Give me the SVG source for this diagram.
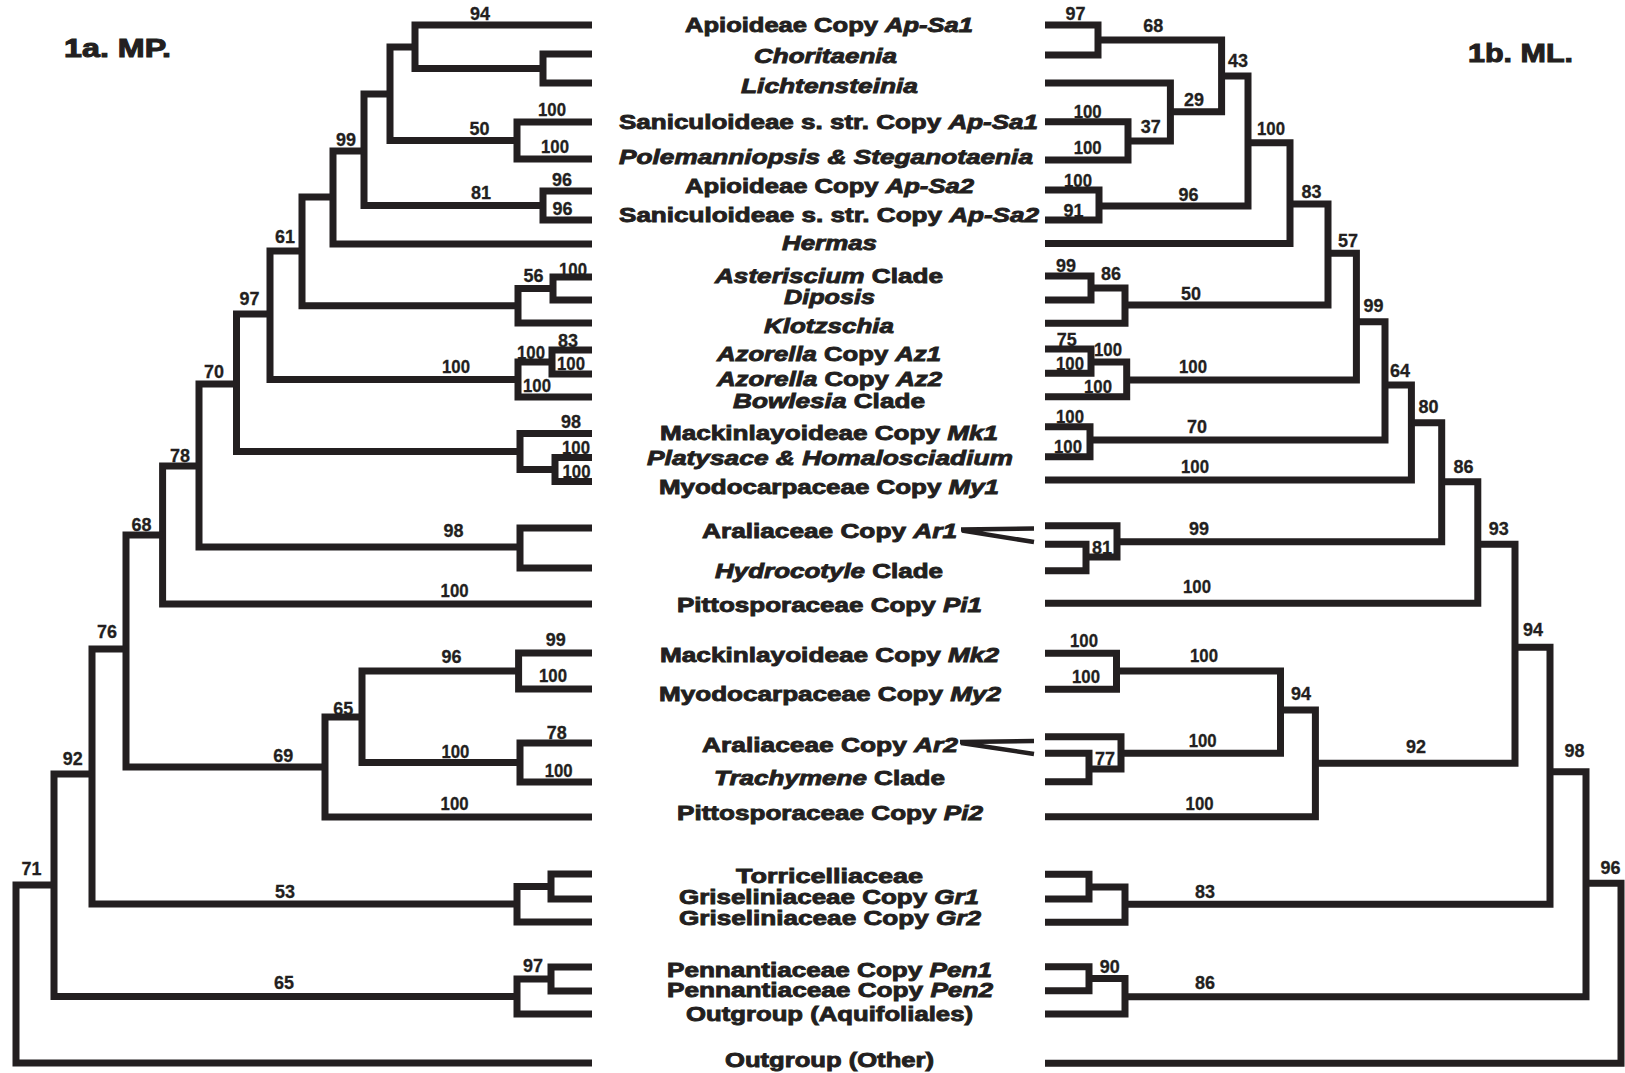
<svg xmlns="http://www.w3.org/2000/svg" width="1625" height="1073" viewBox="0 0 1625 1073">
<style>
.br{fill:none;stroke:#231f20;stroke-width:7;stroke-linejoin:miter;stroke-linecap:butt}
.wedge{fill:none;stroke:#231f20;stroke-width:4.5;stroke-linecap:butt}
.tx{font-family:"Liberation Sans",Arial,sans-serif;font-weight:bold;font-size:21px;fill:#231f20;stroke:#231f20;stroke-width:0.9}
.it{font-style:italic}
.ttl{font-family:"Liberation Sans",Arial,sans-serif;font-weight:bold;font-size:25px;fill:#231f20;stroke:#231f20;stroke-width:1}
.bs{font-family:"Liberation Sans",Arial,sans-serif;font-weight:bold;font-size:19px;fill:#231f20;stroke:#231f20;stroke-width:0.3;text-anchor:middle}
</style>
<rect width="1625" height="1073" fill="#ffffff"/>
<g id="titles">
<text class="ttl" x="64" y="57.3" textLength="107" lengthAdjust="spacingAndGlyphs">1a. MP.</text>
<text class="ttl" x="1468" y="61.7" textLength="105" lengthAdjust="spacingAndGlyphs">1b. ML.</text>
</g>
<g id="connectors">
<g id="mp-tree">
<path class="br" d="M592 54 H543 V83 H592"/>
<path class="br" d="M592 25 H415 V68.5 H543"/>
<path class="br" d="M592 122 H517 V159 H592"/>
<path class="br" d="M415 47 H390 V140.5 H517"/>
<path class="br" d="M592 191 H543 V220 H592"/>
<path class="br" d="M390 94 H364 V205.5 H543"/>
<path class="br" d="M364 151 H333 V244 H592"/>
<path class="br" d="M592 277 H553 V300 H592"/>
<path class="br" d="M553 288.5 H518 V323 H592"/>
<path class="br" d="M333 197 H302 V305.75 H518"/>
<path class="br" d="M592 350 H552 V374 H592"/>
<path class="br" d="M552 362 H518 V397 H592"/>
<path class="br" d="M302 251 H270 V379.5 H518"/>
<path class="br" d="M592 457.5 H555 V481.5 H592"/>
<path class="br" d="M592 433.5 H520 V469.5 H555"/>
<path class="br" d="M270 314 H236.5 V451.5 H520"/>
<path class="br" d="M592 528 H520 V568 H592"/>
<path class="br" d="M236.5 384 H199 V547 H520"/>
<path class="br" d="M199 466 H162.6 V604 H592"/>
<path class="br" d="M592 653 H518.6 V689 H592"/>
<path class="br" d="M592 743 H520 V782 H592"/>
<path class="br" d="M518.6 671 H362 V762.5 H520"/>
<path class="br" d="M362 717 H325 V817 H592"/>
<path class="br" d="M162.6 535 H126 V767 H325"/>
<path class="br" d="M592 874 H551 V899 H592"/>
<path class="br" d="M551 886.5 H517 V922 H592"/>
<path class="br" d="M126 649 H92 V904 H517"/>
<path class="br" d="M592 967 H551 V991 H592"/>
<path class="br" d="M551 979 H517 V1014 H592"/>
<path class="br" d="M92 774 H54 V996.5 H517"/>
<path class="br" d="M54 885 H16 V1063 H592"/>
</g>
<g id="ml-tree">
<path class="br" d="M1045 25 H1098 V55 H1045"/>
<path class="br" d="M1045 121.7 H1128 V160 H1045"/>
<path class="br" d="M1045 83 H1170.4 V141 H1128"/>
<path class="br" d="M1098 40 H1221.6 V111.7 H1170.4"/>
<path class="br" d="M1045 190 H1099 V220 H1045"/>
<path class="br" d="M1221.6 76 H1248 V206 H1099"/>
<path class="br" d="M1248 142.7 H1290 V243.5 H1045"/>
<path class="br" d="M1045 276 H1091 V300 H1045"/>
<path class="br" d="M1091 288 H1125 V323.3 H1045"/>
<path class="br" d="M1290 204 H1328 V305 H1125"/>
<path class="br" d="M1045 349 H1091 V373.3 H1045"/>
<path class="br" d="M1091 362 H1126.7 V396.7 H1045"/>
<path class="br" d="M1328 253.3 H1356.4 V380 H1126.7"/>
<path class="br" d="M1045 426.7 H1090 V456.7 H1045"/>
<path class="br" d="M1356.4 321.7 H1385 V440 H1090"/>
<path class="br" d="M1385 385 H1411.4 V480 H1045"/>
<path class="br" d="M1045 544.3 H1086 V570.7 H1045"/>
<path class="br" d="M1045 525.7 H1117 V557 H1086"/>
<path class="br" d="M1411.4 422.7 H1441.7 V541.7 H1117"/>
<path class="br" d="M1441.7 481.7 H1477.8 V603.3 H1045"/>
<path class="br" d="M1045 653.3 H1116.5 V689.3 H1045"/>
<path class="br" d="M1045 753.3 H1089 V781.7 H1045"/>
<path class="br" d="M1045 736.7 H1121 V769 H1089"/>
<path class="br" d="M1116.5 671 H1280.5 V753.3 H1121"/>
<path class="br" d="M1280.5 710 H1315.4 V816.7 H1045"/>
<path class="br" d="M1477.8 544.3 H1515 V763.3 H1315.4"/>
<path class="br" d="M1045 874.3 H1089 V899 H1045"/>
<path class="br" d="M1089 887 H1125 V922.3 H1045"/>
<path class="br" d="M1515 647.3 H1550 V904.3 H1125"/>
<path class="br" d="M1045 966.7 H1089 V990.7 H1045"/>
<path class="br" d="M1089 978.5 H1125 V1014 H1045"/>
<path class="br" d="M1550 771.7 H1586 V996.7 H1125"/>
<path class="br" d="M1586 883.3 H1621 V1063.3 H1045"/>
</g>
<g id="ar-links">
<path class="wedge" d="M961 529.5 L1034 528.5 M962 530.5 L1034 542"/>
<path class="wedge" d="M960 742 L1034 741 M961 743 L1034 754"/>
</g>
</g>
<g id="taxa">
<g id="t01"><text class="tx" x="685" y="31.7" textLength="288" lengthAdjust="spacingAndGlyphs">Apioideae Copy <tspan class="it">Ap-Sa1</tspan></text></g>
<g id="t02"><text class="tx it" x="754" y="62.7" textLength="143" lengthAdjust="spacingAndGlyphs">Choritaenia</text></g>
<g id="t03"><text class="tx it" x="741" y="92.7" textLength="177" lengthAdjust="spacingAndGlyphs">Lichtensteinia</text></g>
<g id="t04"><text class="tx" x="619" y="129.3" textLength="419" lengthAdjust="spacingAndGlyphs">Saniculoideae s. str. Copy <tspan class="it">Ap-Sa1</tspan></text></g>
<g id="t05"><text class="tx it" x="619" y="164" textLength="414" lengthAdjust="spacingAndGlyphs">Polemanniopsis &amp; Steganotaenia</text></g>
<g id="t06"><text class="tx" x="685" y="192.7" textLength="289" lengthAdjust="spacingAndGlyphs">Apioideae Copy <tspan class="it">Ap-Sa2</tspan></text></g>
<g id="t07"><text class="tx" x="619" y="221.7" textLength="420" lengthAdjust="spacingAndGlyphs">Saniculoideae s. str. Copy <tspan class="it">Ap-Sa2</tspan></text></g>
<g id="t08"><text class="tx it" x="782" y="250" textLength="95" lengthAdjust="spacingAndGlyphs">Hermas</text></g>
<g id="t09"><text class="tx" x="715" y="283.3" textLength="228" lengthAdjust="spacingAndGlyphs"><tspan class="it">Asteriscium</tspan> Clade</text></g>
<g id="t10"><text class="tx it" x="784" y="304.3" textLength="91" lengthAdjust="spacingAndGlyphs">Diposis</text></g>
<g id="t11"><text class="tx it" x="764" y="333.3" textLength="130" lengthAdjust="spacingAndGlyphs">Klotzschia</text></g>
<g id="t12"><text class="tx" x="717" y="361" textLength="224" lengthAdjust="spacingAndGlyphs"><tspan class="it">Azorella</tspan> Copy <tspan class="it">Az1</tspan></text></g>
<g id="t13"><text class="tx" x="717" y="386" textLength="225" lengthAdjust="spacingAndGlyphs"><tspan class="it">Azorella</tspan> Copy <tspan class="it">Az2</tspan></text></g>
<g id="t14"><text class="tx" x="733" y="407.7" textLength="192" lengthAdjust="spacingAndGlyphs"><tspan class="it">Bowlesia</tspan> Clade</text></g>
<g id="t15"><text class="tx" x="660" y="440" textLength="338" lengthAdjust="spacingAndGlyphs">Mackinlayoideae Copy <tspan class="it">Mk1</tspan></text></g>
<g id="t16"><text class="tx it" x="647" y="465" textLength="366" lengthAdjust="spacingAndGlyphs">Platysace &amp; Homalosciadium</text></g>
<g id="t17"><text class="tx" x="659" y="494" textLength="340" lengthAdjust="spacingAndGlyphs">Myodocarpaceae Copy <tspan class="it">My1</tspan></text></g>
<g id="t18"><text class="tx" x="702" y="537.7" textLength="255" lengthAdjust="spacingAndGlyphs">Araliaceae Copy <tspan class="it">Ar1</tspan></text></g>
<g id="t19"><text class="tx" x="715" y="578.3" textLength="228" lengthAdjust="spacingAndGlyphs"><tspan class="it">Hydrocotyle</tspan> Clade</text></g>
<g id="t20"><text class="tx" x="677" y="611.7" textLength="305" lengthAdjust="spacingAndGlyphs">Pittosporaceae Copy <tspan class="it">Pi1</tspan></text></g>
<g id="t21"><text class="tx" x="660" y="661.7" textLength="339" lengthAdjust="spacingAndGlyphs">Mackinlayoideae Copy <tspan class="it">Mk2</tspan></text></g>
<g id="t22"><text class="tx" x="659" y="700.7" textLength="342" lengthAdjust="spacingAndGlyphs">Myodocarpaceae Copy <tspan class="it">My2</tspan></text></g>
<g id="t23"><text class="tx" x="702" y="752.3" textLength="256" lengthAdjust="spacingAndGlyphs">Araliaceae Copy <tspan class="it">Ar2</tspan></text></g>
<g id="t24"><text class="tx" x="714" y="785" textLength="231" lengthAdjust="spacingAndGlyphs"><tspan class="it">Trachymene</tspan> Clade</text></g>
<g id="t25"><text class="tx" x="677" y="820" textLength="306" lengthAdjust="spacingAndGlyphs">Pittosporaceae Copy <tspan class="it">Pi2</tspan></text></g>
<g id="t26"><text class="tx" x="736" y="882.7" textLength="187" lengthAdjust="spacingAndGlyphs">Torricelliaceae</text></g>
<g id="t27"><text class="tx" x="679" y="904.3" textLength="300" lengthAdjust="spacingAndGlyphs">Griseliniaceae Copy <tspan class="it">Gr1</tspan></text></g>
<g id="t28"><text class="tx" x="679" y="925" textLength="302" lengthAdjust="spacingAndGlyphs">Griseliniaceae Copy <tspan class="it">Gr2</tspan></text></g>
<g id="t29"><text class="tx" x="667" y="976.7" textLength="325" lengthAdjust="spacingAndGlyphs">Pennantiaceae Copy <tspan class="it">Pen1</tspan></text></g>
<g id="t30"><text class="tx" x="667" y="997.3" textLength="326" lengthAdjust="spacingAndGlyphs">Pennantiaceae Copy <tspan class="it">Pen2</tspan></text></g>
<g id="t31"><text class="tx" x="686" y="1020.7" textLength="287" lengthAdjust="spacingAndGlyphs">Outgroup (Aquifoliales)</text></g>
<g id="t32"><text class="tx" x="725" y="1066.7" textLength="209" lengthAdjust="spacingAndGlyphs">Outgroup (Other)</text></g>
</g>
<g id="mp-support">
<text class="bs" x="480" y="19.5" textLength="20" lengthAdjust="spacingAndGlyphs">94</text>
<text class="bs" x="552" y="116" textLength="28" lengthAdjust="spacingAndGlyphs">100</text>
<text class="bs" x="479.5" y="135" textLength="20" lengthAdjust="spacingAndGlyphs">50</text>
<text class="bs" x="555" y="152.5" textLength="28" lengthAdjust="spacingAndGlyphs">100</text>
<text class="bs" x="346" y="146" textLength="20" lengthAdjust="spacingAndGlyphs">99</text>
<text class="bs" x="562" y="185.5" textLength="20" lengthAdjust="spacingAndGlyphs">96</text>
<text class="bs" x="481" y="199" textLength="20" lengthAdjust="spacingAndGlyphs">81</text>
<text class="bs" x="562.5" y="215" textLength="20" lengthAdjust="spacingAndGlyphs">96</text>
<text class="bs" x="285" y="242.5" textLength="20" lengthAdjust="spacingAndGlyphs">61</text>
<text class="bs" x="533.5" y="282" textLength="20" lengthAdjust="spacingAndGlyphs">56</text>
<text class="bs" x="573" y="276" textLength="28" lengthAdjust="spacingAndGlyphs">100</text>
<text class="bs" x="249.5" y="305" textLength="20" lengthAdjust="spacingAndGlyphs">97</text>
<text class="bs" x="568" y="346.5" textLength="20" lengthAdjust="spacingAndGlyphs">83</text>
<text class="bs" x="531" y="359" textLength="28" lengthAdjust="spacingAndGlyphs">100</text>
<text class="bs" x="571" y="369.5" textLength="28" lengthAdjust="spacingAndGlyphs">100</text>
<text class="bs" x="456" y="373" textLength="28" lengthAdjust="spacingAndGlyphs">100</text>
<text class="bs" x="214" y="378" textLength="20" lengthAdjust="spacingAndGlyphs">70</text>
<text class="bs" x="537" y="391.5" textLength="28" lengthAdjust="spacingAndGlyphs">100</text>
<text class="bs" x="571" y="427.5" textLength="20" lengthAdjust="spacingAndGlyphs">98</text>
<text class="bs" x="576" y="453.5" textLength="28" lengthAdjust="spacingAndGlyphs">100</text>
<text class="bs" x="576.5" y="477.5" textLength="28" lengthAdjust="spacingAndGlyphs">100</text>
<text class="bs" x="180" y="462" textLength="20" lengthAdjust="spacingAndGlyphs">78</text>
<text class="bs" x="453.5" y="537" textLength="20" lengthAdjust="spacingAndGlyphs">98</text>
<text class="bs" x="141.6" y="531" textLength="20" lengthAdjust="spacingAndGlyphs">68</text>
<text class="bs" x="454.6" y="597" textLength="28" lengthAdjust="spacingAndGlyphs">100</text>
<text class="bs" x="107" y="638" textLength="20" lengthAdjust="spacingAndGlyphs">76</text>
<text class="bs" x="555.7" y="646" textLength="20" lengthAdjust="spacingAndGlyphs">99</text>
<text class="bs" x="451.6" y="662.5" textLength="20" lengthAdjust="spacingAndGlyphs">96</text>
<text class="bs" x="553" y="681.5" textLength="28" lengthAdjust="spacingAndGlyphs">100</text>
<text class="bs" x="343.3" y="715" textLength="20" lengthAdjust="spacingAndGlyphs">65</text>
<text class="bs" x="556.8" y="739" textLength="20" lengthAdjust="spacingAndGlyphs">78</text>
<text class="bs" x="455.4" y="758" textLength="28" lengthAdjust="spacingAndGlyphs">100</text>
<text class="bs" x="283.2" y="761.5" textLength="20" lengthAdjust="spacingAndGlyphs">69</text>
<text class="bs" x="558.7" y="776.5" textLength="28" lengthAdjust="spacingAndGlyphs">100</text>
<text class="bs" x="72.7" y="765" textLength="20" lengthAdjust="spacingAndGlyphs">92</text>
<text class="bs" x="454.6" y="810" textLength="28" lengthAdjust="spacingAndGlyphs">100</text>
<text class="bs" x="31.4" y="875" textLength="20" lengthAdjust="spacingAndGlyphs">71</text>
<text class="bs" x="285" y="898" textLength="20" lengthAdjust="spacingAndGlyphs">53</text>
<text class="bs" x="533" y="971.5" textLength="20" lengthAdjust="spacingAndGlyphs">97</text>
<text class="bs" x="284" y="988.5" textLength="20" lengthAdjust="spacingAndGlyphs">65</text>
</g>
<g id="ml-support">
<text class="bs" x="1075.5" y="20" textLength="20" lengthAdjust="spacingAndGlyphs">97</text>
<text class="bs" x="1153.3" y="31.7" textLength="20" lengthAdjust="spacingAndGlyphs">68</text>
<text class="bs" x="1238" y="67.3" textLength="20" lengthAdjust="spacingAndGlyphs">43</text>
<text class="bs" x="1194" y="106" textLength="20" lengthAdjust="spacingAndGlyphs">29</text>
<text class="bs" x="1087.7" y="118.3" textLength="28" lengthAdjust="spacingAndGlyphs">100</text>
<text class="bs" x="1150.7" y="132.7" textLength="20" lengthAdjust="spacingAndGlyphs">37</text>
<text class="bs" x="1087.7" y="154" textLength="28" lengthAdjust="spacingAndGlyphs">100</text>
<text class="bs" x="1271" y="135" textLength="28" lengthAdjust="spacingAndGlyphs">100</text>
<text class="bs" x="1078" y="186.7" textLength="28" lengthAdjust="spacingAndGlyphs">100</text>
<text class="bs" x="1311.6" y="198.3" textLength="20" lengthAdjust="spacingAndGlyphs">83</text>
<text class="bs" x="1188.6" y="201" textLength="20" lengthAdjust="spacingAndGlyphs">96</text>
<text class="bs" x="1073.6" y="216.7" textLength="20" lengthAdjust="spacingAndGlyphs">91</text>
<text class="bs" x="1348" y="246.7" textLength="20" lengthAdjust="spacingAndGlyphs">57</text>
<text class="bs" x="1066" y="271.7" textLength="20" lengthAdjust="spacingAndGlyphs">99</text>
<text class="bs" x="1111" y="280" textLength="20" lengthAdjust="spacingAndGlyphs">86</text>
<text class="bs" x="1191" y="300" textLength="20" lengthAdjust="spacingAndGlyphs">50</text>
<text class="bs" x="1373.5" y="311.7" textLength="20" lengthAdjust="spacingAndGlyphs">99</text>
<text class="bs" x="1066.7" y="345.7" textLength="20" lengthAdjust="spacingAndGlyphs">75</text>
<text class="bs" x="1108" y="356" textLength="28" lengthAdjust="spacingAndGlyphs">100</text>
<text class="bs" x="1070" y="370" textLength="28" lengthAdjust="spacingAndGlyphs">100</text>
<text class="bs" x="1193" y="373.3" textLength="28" lengthAdjust="spacingAndGlyphs">100</text>
<text class="bs" x="1400" y="376.7" textLength="20" lengthAdjust="spacingAndGlyphs">64</text>
<text class="bs" x="1098" y="392.7" textLength="28" lengthAdjust="spacingAndGlyphs">100</text>
<text class="bs" x="1428.5" y="413.3" textLength="20" lengthAdjust="spacingAndGlyphs">80</text>
<text class="bs" x="1070" y="423.3" textLength="28" lengthAdjust="spacingAndGlyphs">100</text>
<text class="bs" x="1197" y="432.7" textLength="20" lengthAdjust="spacingAndGlyphs">70</text>
<text class="bs" x="1068" y="453.3" textLength="28" lengthAdjust="spacingAndGlyphs">100</text>
<text class="bs" x="1195" y="473.3" textLength="28" lengthAdjust="spacingAndGlyphs">100</text>
<text class="bs" x="1463.4" y="473.3" textLength="20" lengthAdjust="spacingAndGlyphs">86</text>
<text class="bs" x="1199" y="535" textLength="20" lengthAdjust="spacingAndGlyphs">99</text>
<text class="bs" x="1498.7" y="535" textLength="20" lengthAdjust="spacingAndGlyphs">93</text>
<text class="bs" x="1102" y="554.3" textLength="20" lengthAdjust="spacingAndGlyphs">81</text>
<text class="bs" x="1197" y="593.3" textLength="28" lengthAdjust="spacingAndGlyphs">100</text>
<text class="bs" x="1533" y="636" textLength="20" lengthAdjust="spacingAndGlyphs">94</text>
<text class="bs" x="1084" y="646.7" textLength="28" lengthAdjust="spacingAndGlyphs">100</text>
<text class="bs" x="1204" y="661.7" textLength="28" lengthAdjust="spacingAndGlyphs">100</text>
<text class="bs" x="1086" y="683.3" textLength="28" lengthAdjust="spacingAndGlyphs">100</text>
<text class="bs" x="1301" y="700" textLength="20" lengthAdjust="spacingAndGlyphs">94</text>
<text class="bs" x="1202.7" y="746.7" textLength="28" lengthAdjust="spacingAndGlyphs">100</text>
<text class="bs" x="1416" y="752.7" textLength="20" lengthAdjust="spacingAndGlyphs">92</text>
<text class="bs" x="1574.6" y="756.7" textLength="20" lengthAdjust="spacingAndGlyphs">98</text>
<text class="bs" x="1105" y="765" textLength="20" lengthAdjust="spacingAndGlyphs">77</text>
<text class="bs" x="1199.6" y="810" textLength="28" lengthAdjust="spacingAndGlyphs">100</text>
<text class="bs" x="1610.6" y="874" textLength="20" lengthAdjust="spacingAndGlyphs">96</text>
<text class="bs" x="1205" y="898.3" textLength="20" lengthAdjust="spacingAndGlyphs">83</text>
<text class="bs" x="1109.7" y="972.7" textLength="20" lengthAdjust="spacingAndGlyphs">90</text>
<text class="bs" x="1205" y="989.3" textLength="20" lengthAdjust="spacingAndGlyphs">86</text>
</g>
</svg>
